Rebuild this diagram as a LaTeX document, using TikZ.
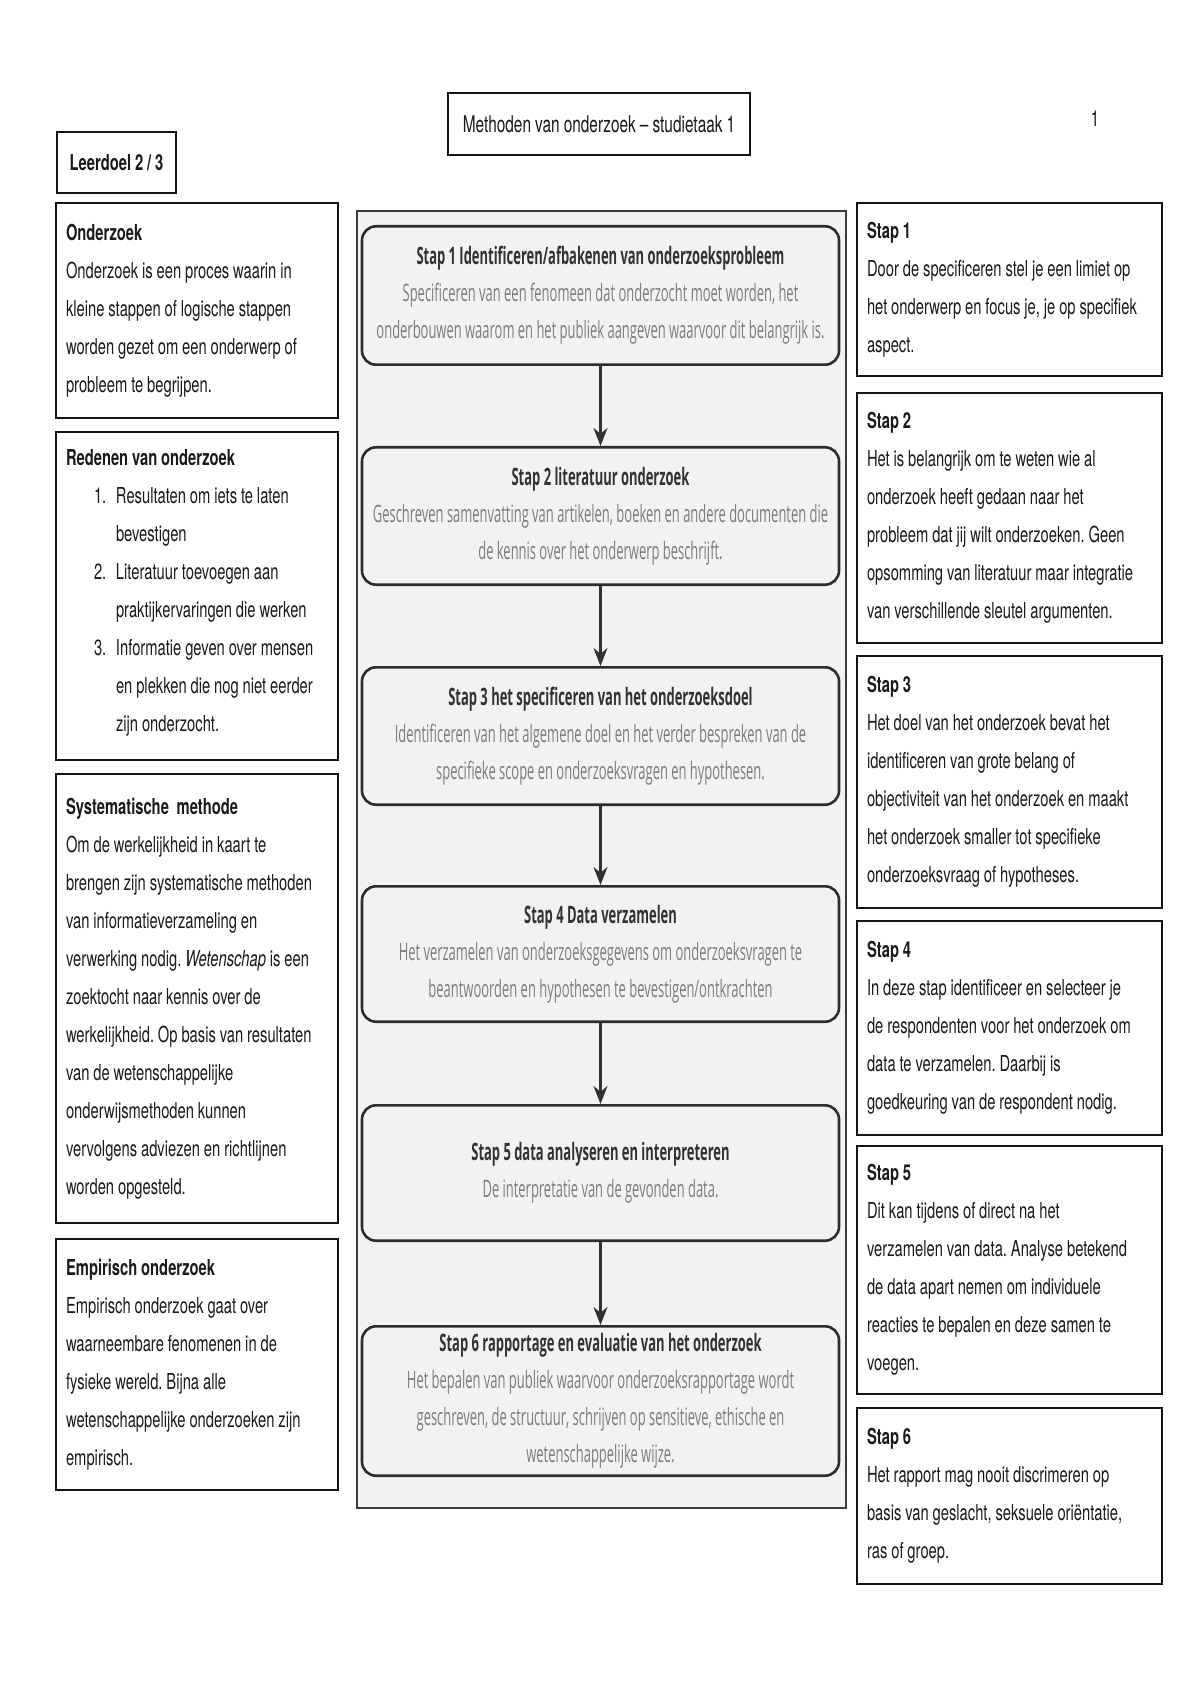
\documentclass[tikz,border=0pt]{standalone}
\usepackage{fontspec}
\setmainfont{TeX Gyre Heros}[FakeStretch=0.67, WordSpace=0.95]
\newfontfamily\stepfont{Open Sans}[FakeStretch=0.54, WordSpace=1.0]
\usepackage{xcolor}
\usepackage{tikz}
\usetikzlibrary{
  positioning,
  arrows.meta
}
\hyphenpenalty=10000
\frenchspacing
\definecolor{notetext}{RGB}{26,26,26}
\definecolor{noteborder}{RGB}{20,20,20}
\definecolor{panelbg}{RGB}{242,242,242}
\definecolor{panelborder}{RGB}{60,60,60}
\definecolor{stepborder}{RGB}{45,45,45}
\definecolor{stephead}{RGB}{50,50,50}
\definecolor{steptext}{RGB}{125,125,125}
\definecolor{arrowcolor}{RGB}{50,50,50}
\tikzset{
  notebox/.style={
    draw=noteborder, fill=white, line width=1pt, text=notetext,
    align=flush left, inner xsep=5pt, inner ysep=4pt,
    font=\fontsize{11}{19}\selectfont
  },
  leftnote/.style={
    notebox, text width=131pt
  },
  rightnote/.style={
    notebox, text width=142.5pt
  },
  headbox/.style={
    draw=noteborder, fill=white, line width=1pt, text=notetext,
    align=center, font=\fontsize{11}{13}\selectfont
  },
  panelbox/.style={
    draw=panelborder, fill=panelbg, line width=0.8pt
  },
  stepbox/.style={
    draw=stepborder, fill=panelbg, rounded corners=7pt, line width=1.3pt,
    minimum width=238.5pt, text width=236pt, inner xsep=1.25pt,
    align=flush center, text=steptext,
    font=\stepfont\fontsize{12}{18.5}\selectfont
  },
  bigarrow/.style={
    -{Stealth[length=9pt,width=7pt]}, line width=1.2pt, draw=arrowcolor
  }
}
\newcommand{\stapkop}[1]{\textbf{\color{stephead}#1}}

\begin{document}
\begin{tikzpicture}[
    x=1pt, y=1pt,
    node distance=6pt
  ]
    \useasboundingbox (0,0) rectangle (600,-850);

    % Header
    \node[headbox, minimum width=151pt, minimum height=31pt, font=\fontsize{11.5}{14}\selectfont] (title) at (299.5,-62) {Methoden van onderzoek – studietaak 1};
    \node[text=notetext, font=\fontsize{11}{13}\selectfont] (pagenr) at (547.5,-59.5) {1};
    \node[headbox, minimum width=59.5pt, minimum height=30.5pt, font=\fontsize{11}{13}\selectfont\bfseries] (leerdoel) at (58.25,-81.25) {Leerdoel 2 / 3};

    % Column 1: begrippen
    \node[leftnote, anchor=north, minimum height=107.5pt] (onderzoek) at (98.5,-101) {
      \textbf{Onderzoek}\\
      Onderzoek is een proces waarin in\\
      kleine stappen of logische stappen\\
      worden gezet om een onderwerp of\\
      probleem te begrijpen.
    };
    \node[leftnote, minimum height=164pt, below=of onderzoek] (redenen) {
      \textbf{Redenen van onderzoek}\\
      \begin{tabular}[t]{@{\hspace{14pt}}p{11pt}@{}l@{}}
        1. & Resultaten om iets te laten\\
           & bevestigen\\
        2. & Literatuur toevoegen aan\\
           & praktijkervaringen die werken\\
        3. & Informatie geven over mensen\\
           & en plekken die nog niet eerder\\
           & zijn onderzocht.
      \end{tabular}
    };
    \node[leftnote, minimum height=224.5pt, below=of redenen] (systematisch) {
      \textbf{Systematische\ \ methode}\\
      Om de werkelijkheid in kaart te\\
      brengen zijn systematische methoden\\
      van informatieverzameling en\\
      verwerking nodig. \textit{Wetenschap} is een\\
      zoektocht naar kennis over de\\
      werkelijkheid. Op basis van resultaten\\
      van de wetenschappelijke\\
      onderwijsmethoden kunnen\\
      vervolgens adviezen en richtlijnen\\
      worden opgesteld.
    };
    \node[leftnote, minimum height=125.5pt, below=7pt of systematisch] (empirisch) {
      \textbf{Empirisch onderzoek}\\
      Empirisch onderzoek gaat over\\
      waarneembare fenomenen in de\\
      fysieke wereld. Bijna alle\\
      wetenschappelijke onderzoeken zijn\\
      empirisch.
    };

    % Column 2: stappenplan
    \node[panelbox, anchor=north west, minimum width=244.5pt, minimum height=648.5pt] (panel) at (178,-105) {};
    \node[stepbox, anchor=north, minimum height=69.2pt] (s1) at (300.25,-112.5) {
      \stapkop{Stap 1 Identificeren/afbakenen van onderzoeksprobleem}\\
      Specificeren van een fenomeen dat onderzocht moet worden, het\\
      onderbouwen waarom en het publiek aangeven waarvoor dit belangrijk is.
    };
    \node[stepbox, minimum height=68.7pt, below=40pt of s1] (s2) {
      \stapkop{Stap 2 literatuur onderzoek}\\
      Geschreven samenvatting van artikelen, boeken en andere documenten die\\
      de kennis over het onderwerp beschrijft.
    };
    \node[stepbox, minimum height=68.7pt, below=40pt of s2] (s3) {
      \stapkop{Stap 3 het specificeren van het onderzoeksdoel}\\
      Identificeren van het algemene doel en het verder bespreken van de\\
      specifieke scope en onderzoeksvragen en hypothesen.
    };
    \node[stepbox, minimum height=67.7pt, below=39.5pt of s3] (s4) {
      \stapkop{Stap 4 Data verzamelen}\\
      Het verzamelen van onderzoeksgegevens om onderzoeksvragen te\\
      beantwoorden en hypothesen te bevestigen/ontkrachten
    };
    \node[stepbox, minimum height=67.7pt, below=40.5pt of s4] (s5) {
      \stapkop{Stap 5 data analyseren en interpreteren}\\
      De interpretatie van de gevonden data.
    };
    \node[stepbox, minimum height=74.7pt, below=41.5pt of s5] (s6) {
      \stapkop{Stap 6 rapportage en evaluatie van het onderzoek}\\
      Het bepalen van publiek waarvoor onderzoeksrapportage wordt\\
      geschreven, de structuur, schrijven op sensitieve, ethische en\\
      wetenschappelijke wijze.
    };

    % Column 3: toelichting per stap
    \node[rightnote, anchor=north, minimum height=86.5pt] (r1) at (504.75,-101) {
      \textbf{Stap 1}\\
      Door de specificeren stel je een limiet op\\
      het onderwerp en focus je, je op specifiek\\
      aspect.
    };
    \node[rightnote, minimum height=125pt, below=7.5pt of r1] (r2) {
      \textbf{Stap 2}\\
      Het is belangrijk om te weten wie al\\
      onderzoek heeft gedaan naar het\\
      probleem dat jij wilt onderzoeken. Geen\\
      opsomming van literatuur maar integratie\\
      van verschillende sleutel argumenten.
    };
    \node[rightnote, minimum height=126pt, below=5.5pt of r2] (r3) {
      \textbf{Stap 3}\\
      Het doel van het onderzoek bevat het\\
      identificeren van grote belang of\\
      objectiviteit van het onderzoek en maakt\\
      het onderzoek smaller tot specifieke\\
      onderzoeksvraag of hypotheses.
    };
    \node[rightnote, minimum height=107pt, below=5.5pt of r3] (r4) {
      \textbf{Stap 4}\\
      In deze stap identificeer en selecteer je\\
      de respondenten voor het onderzoek om\\
      data te verzamelen. Daarbij is\\
      goedkeuring van de respondent nodig.
    };
    \node[rightnote, minimum height=124pt, below=4.5pt of r4] (r5) {
      \textbf{Stap 5}\\
      Dit kan tijdens of direct na het\\
      verzamelen van data. Analyse betekend\\
      de data apart nemen om individuele\\
      reacties te bepalen en deze samen te\\
      voegen.
    };
    \node[rightnote, minimum height=88pt, below=6pt of r5] (r6) {
      \textbf{Stap 6}\\
      Het rapport mag nooit discrimeren op\\
      basis van geslacht, seksuele oriëntatie,\\
      ras of groep.
    };

    % Arrows: stap -> stap
    \draw[bigarrow] (s1.south) -- (s2.north);
    \draw[bigarrow] (s2.south) -- (s3.north);
    \draw[bigarrow] (s3.south) -- (s4.north);
    \draw[bigarrow] (s4.south) -- (s5.north);
    \draw[bigarrow] (s5.south) -- (s6.north);

  \end{tikzpicture}
\end{document}
